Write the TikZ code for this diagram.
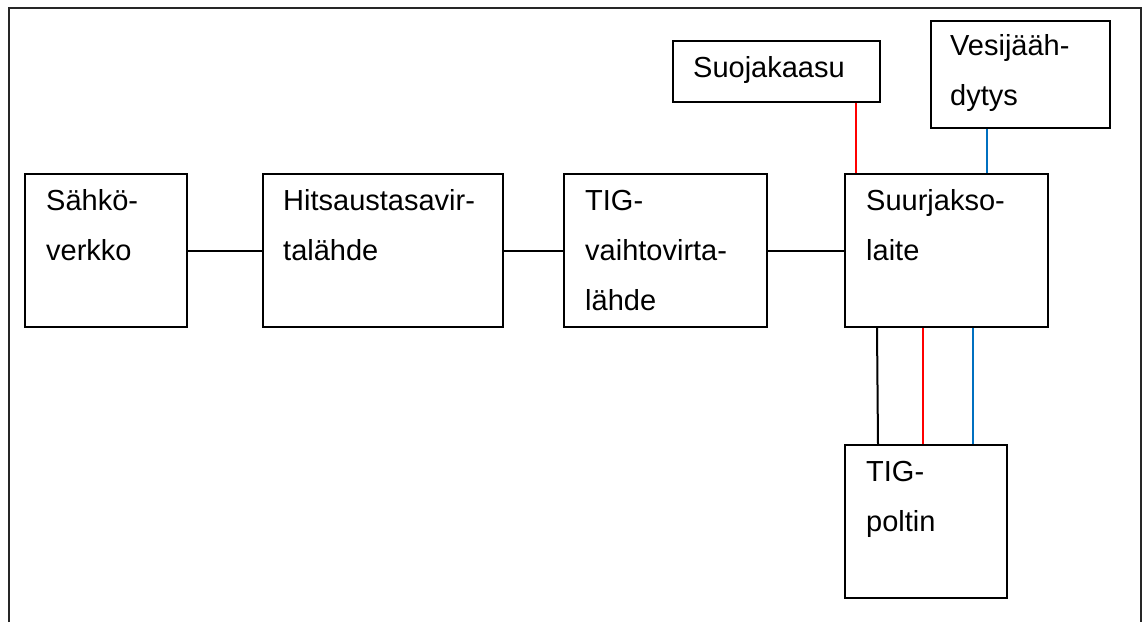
\documentclass[tikz,border=0pt]{standalone}
\usepackage{fontspec}
\setmainfont{Liberation Sans}
\usetikzlibrary{calc}
\definecolor{gasred}{RGB}{255,0,0}
\definecolor{waterblue}{RGB}{0,112,192}
\tikzset{
  unit/.style={draw=black, line width=2pt, inner sep=0pt, anchor=north west},
  caption/.style={anchor=north west, inner sep=0pt, align=left,
                  font=\fontsize{29}{50}\selectfont},
  wire/.style={line width=2pt},
  frameline/.style={draw=black!85, line width=2pt},
}
% fixed height for the first line so every caption starts on the same baseline
\newcommand{\firstline}{\rule{0pt}{24pt}}
\begin{document}
\begin{tikzpicture}[x=1pt,y=-1pt]
  \useasboundingbox (0,0) rectangle (1146,622);
  % open outer frame
  \draw[frameline] (9,622) -- (9,8) -- (1141,8) -- (1141,622);

  % main chain
  \node[unit, minimum width=162pt, minimum height=153pt] (sahko) at (24,173) {};
  \node[unit, minimum width=240pt, minimum height=153pt] (hits) at (262,173) {};
  \node[unit, minimum width=203pt, minimum height=153pt] (vaihto) at (563,173) {};
  \node[unit, minimum width=203pt, minimum height=153pt] (suur) at (844,173) {};
  % supplies
  \node[unit, minimum width=207pt, minimum height=61pt] (suoj) at (672,40) {};
  \node[unit, minimum width=179pt, minimum height=107pt] (vesi) at (930,20) {};
  % torch
  \node[unit, minimum width=162pt, minimum height=153pt] (poltin) at (844,444) {};

  % captions
  \node[caption] (sahkoT) at ($(sahko.north west)+(22,13)$) {\firstline Sähkö-\\verkko};
  \node[caption] (hitsT) at ($(hits.north west)+(21,13)$) {\firstline Hitsaustasavir-\\talähde};
  \node[caption] (vaihtoT) at ($(vaihto.north west)+(22,13)$) {\firstline TIG-\\vaihtovirta-\\lähde};
  \node[caption] (suurT) at ($(suur.north west)+(22,13)$) {\firstline Suurjakso-\\laite};
  \node[caption] (suojT) at ($(suoj.north west)+(21,13)$) {\firstline Suojakaasu};
  \node[caption] (vesiT) at ($(vesi.north west)+(20,11)$) {\firstline Vesijääh-\\dytys};
  \node[caption] (poltinT) at ($(poltin.north west)+(22,13)$) {\firstline TIG-\\poltin};

  % power connections
  \draw[wire] (sahko.east) -- (hits.west);
  \draw[wire] (hits.east) -- (vaihto.west);
  \draw[wire] (vaihto.east) -- (suur.west);

  % gas and cooling water into the HF unit
  \draw[wire, gasred] ($(suoj.south west)+(184,0)$) -- ($(suur.north west)+(12,0)$);
  \draw[wire, waterblue] ($(vesi.south west)+(57,0)$) -- ($(suur.north west)+(143,0)$);

  % cable, gas and water to the torch
  \draw[wire] ($(suur.south west)+(33,0)$) -- ($(poltin.north west)+(34,0)$);
  \draw[wire, gasred] ($(suur.south west)+(79,0)$) -- ($(poltin.north west)+(79,0)$);
  \draw[wire, waterblue] ($(suur.south west)+(129,0)$) -- ($(poltin.north west)+(129,0)$);
\end{tikzpicture}
\end{document}
